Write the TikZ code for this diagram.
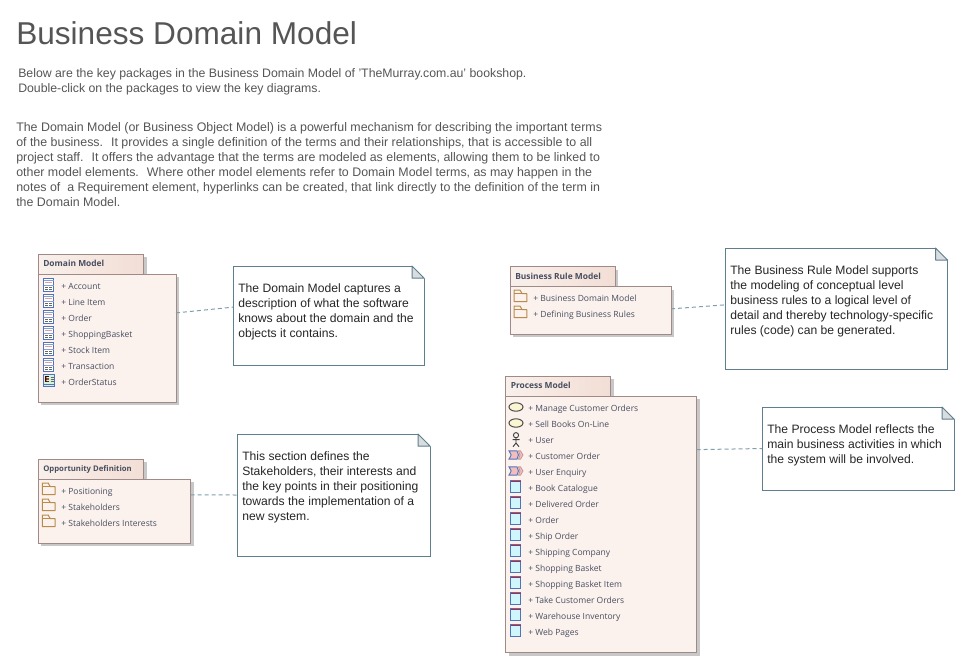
\documentclass[tikz,border=0pt]{standalone}
\usepackage{fontspec}
\setmainfont{Liberation Sans}
\newfontfamily\entryfont{Open Sans}
\usepackage{tikz}
\usetikzlibrary{calc}
\usetikzlibrary{shapes}
\usetikzlibrary{shadows}
\definecolor{pkgline}{HTML}{A08A88}
\definecolor{pkgfill}{HTML}{FBF2EE}
\definecolor{tableft}{HTML}{F9F0EB}
\definecolor{tabright}{HTML}{F2DED5}
\definecolor{notecol}{HTML}{5F7F8F}
\definecolor{linkcol}{HTML}{7F9FAD}
\definecolor{foldcol}{HTML}{D9DDDF}
\definecolor{shadowcol}{HTML}{C8C8C8}
\definecolor{bodytext}{HTML}{555555}
\definecolor{entrytext}{HTML}{484E60}
\definecolor{iconblue}{HTML}{4F74BC}
\definecolor{iconred}{HTML}{C8202C}
\definecolor{iconfill}{HTML}{CFF6FB}
\definecolor{enumfill}{HTML}{D4F2DC}
\definecolor{foldertan}{HTML}{B98A4A}
\definecolor{casefill}{HTML}{FBF6D2}
\definecolor{chevfill}{HTML}{F4BDBD}
\tikzset{
  pkgbody/.style={draw=pkgline, fill=pkgfill, line width=.75pt, anchor=north west, outer sep=0pt, inner sep=0pt,
    general shadow={fill=shadowcol, shadow xshift=2.25pt, shadow yshift=-2.25pt}},
  pkgtab/.style={draw=pkgline, left color=tableft, right color=tabright, line width=.75pt, anchor=north west, outer sep=0pt, inner sep=0pt,
    general shadow={fill=shadowcol, shadow xshift=2.25pt, shadow yshift=-2.25pt}},
  pkgtitle/.style={anchor=base west, inner sep=0pt, text=entrytext, font=\entryfont\fontsize{6.3}{8}\selectfont\bfseries},
  entry/.style={anchor=base west, inner sep=0pt, text=entrytext, font=\entryfont\fontsize{6.4}{8}\selectfont},
  notebox/.style={draw=notecol, fill=white, line width=.75pt, anchor=north west, outer sep=0pt, inner sep=0pt},
  notetext/.style={anchor=north west, inner sep=0pt, align=left, text=black!85, font=\fontsize{9.1}{11.25}\selectfont},
  notelink/.style={draw=linkcol, line width=.75pt, dash pattern=on 3pt off 2.25pt},
  bodypara/.style={anchor=north west, inner sep=0pt, align=left, text=bodytext},
}
\newcommand{\pkg}[7]{% name, x, y, tab width, body width, body height, title
  \node[pkgtab, minimum width=#4*.75pt, minimum height=15pt] (#1tab) at (#2,#3) {};
  \node[pkgbody, minimum width=#5*.75pt, minimum height=#6*.75pt] (#1) at (#2,#3+20) {};
  \node[pkgtitle] (#1title) at (#2+5,#3+12.7) {#7};}
\newcommand{\note}[6]{% name, x, y, w, h, text
  \node[notebox, minimum width=#4*.75pt, minimum height=#5*.75pt] (#1) at (#2,#3) {};
  \fill[white] (#2+#4-12,#3-.5) -- (#2+#4+1,#3-.5) -- (#2+#4+1,#3+12.5) -- cycle;
  \filldraw[draw=notecol, fill=foldcol, line width=.75pt, line join=round] (#2+#4-12,#3) -- (#2+#4,#3+12) -- (#2+#4-12,#3+12) -- cycle;
  \node[notetext] (#1text) at (#2+5,#3+17.2) {#6};}
\newcommand{\entryline}[4]{\node[entry] (#1) at (#2,#3+3) {+ #4};}
\newcommand{\classicon}[2]{\begin{scope}[shift={(#1,#2)}]
  \filldraw[draw=iconblue, fill=white, line width=.75pt] (-5.2,-8) rectangle (5.2,5.7);
  \draw[iconblue!70, line width=.5pt] (-5.2,-5.5) -- (5.2,-5.5) (-5.2,-1) -- (5.2,-1);
  \draw[iconred!45, line width=.5pt] (-3.5,-3.2) -- (3.5,-3.2);
  \draw[black!60, line width=.5pt] (-3.5,1) -- (-.8,1) (.6,1) -- (3.5,1) (-3.5,3.4) -- (-.8,3.4) (.6,3.4) -- (3.5,3.4);
\end{scope}}
\newcommand{\enumicon}[2]{\begin{scope}[shift={(#1,#2)}]
  \filldraw[draw=iconblue, fill=enumfill, line width=.75pt] (-5.7,-7.7) rectangle (5.7,4.7);
  \fill[black!70!red] (-3.8,-6) rectangle (0,.3);
  \fill[enumfill] (-2.6,-4.9) rectangle (0,-3.6) (-2.6,-2.4) rectangle (0,-.9);
  \draw[black!60, line width=.5pt] (1.5,-5) -- (4.5,-5) (1.5,-2.8) -- (4.5,-2.8) (1.5,-.6) -- (4.5,-.6);
  \draw[iconblue, line width=.5pt] (-5.7,2.2) -- (5.7,2.2);
\end{scope}}
\newcommand{\foldericon}[2]{\begin{scope}[shift={(#1,#2)}]
  \draw[foldertan, line width=.75pt, line join=round] (-6.3,3.7) -- (-6.3,-8) -- (-.5,-8) -- (1.5,-4.4) -- (6.3,-4.4) -- (6.3,3.7) -- cycle;
  \draw[foldertan, line width=.75pt] (-6.3,-4.4) -- (1.5,-4.4);
\end{scope}}
\newcommand{\caseicon}[2]{\filldraw[draw=black!70, fill=casefill, line width=.75pt] (#1,#2) ellipse [x radius=7, y radius=4.2];}
\newcommand{\actoricon}[2]{\begin{scope}[shift={(#1,#2)}]
  \draw[black!75, line width=.7pt] (0,-4.8) circle [radius=2.6];
  \draw[black!75, line width=.7pt] (0,-2.2) -- (0,3) (-3.5,-.3) -- (3.5,-.3) (-3,6.7) -- (0,3) -- (3,6.7);
\end{scope}}
\newcommand{\processicon}[2]{\begin{scope}[shift={(#1,#2)}]
  \filldraw[draw=chevfill!80!black, fill=chevfill, line width=.6pt] (2.5,-4.2) -- (4.5,-4.2) -- (7,0) -- (4.5,4.2) -- (2.5,4.2) -- (4,0) -- cycle;
  \filldraw[draw=iconblue, fill=chevfill, line width=.7pt] (-7,-4.2) -- (1,-4.2) -- (2.5,0) -- (1,4.2) -- (-7,4.2) -- (-4.8,0) -- cycle;
\end{scope}}
\newcommand{\windowicon}[2]{\begin{scope}[shift={(#1,#2)}]
  \filldraw[draw=iconblue, fill=iconfill, line width=.75pt] (-5.2,-8) rectangle (5.2,4.3);
  \draw[iconred, line width=.75pt] (-4.8,-6.9) -- (4.8,-6.9);
\end{scope}}

\begin{document}
\begin{tikzpicture}[x=.75pt, y=-.75pt]
    \useasboundingbox (0,0) rectangle (963,662);
    \node[anchor=west, inner sep=0pt, text=bodytext, font=\fontsize{23.7}{28}\selectfont] (pagetitle) at (16,33) {Business Domain Model};
    \node[bodypara, font=\fontsize{9.22}{11.25}\selectfont] (intro) at (18,68.5) {Below are the key packages in the Business Domain Model of 'TheMurray.com.au' bookshop.\\Double-click on the packages to view the key diagrams.};
    \node[bodypara, font=\fontsize{9.3}{11.2}\selectfont] (about) at (16,122.5) {The Domain Model (or Business Object Model) is a powerful mechanism for describing the important terms\\of the business.~ It provides a single definition of the terms and their relationships, that is accessible to all\\project staff.~ It offers the advantage that the terms are modeled as elements, allowing them to be linked to\\other model elements.~ Where other model elements refer to Domain Model terms, as may happen in the\\notes of~ a Requirement element, hyperlinks can be created, that link directly to the definition of the term in\\the Domain Model.};

    % domain model
    \pkg{domain}{38}{254}{105.5}{138}{128}{Domain Model}
    \classicon{48.7}{286}
    \classicon{48.7}{302}
    \classicon{48.7}{318}
    \classicon{48.7}{334}
    \classicon{48.7}{350}
    \classicon{48.7}{366}
    \enumicon{49}{382}
    \entryline{account}{61}{286}{Account}
    \entryline{lineitem}{61}{302}{Line Item}
    \entryline{order}{61}{318}{Order}
    \entryline{basket}{61}{334}{ShoppingBasket}
    \entryline{stockitem}{61}{350}{Stock Item}
    \entryline{transaction}{61}{366}{Transaction}
    \entryline{orderstatus}{61}{382}{OrderStatus}
    \note{domainnote}{233}{266}{191}{99}{The Domain Model captures a\\description of what the software\\knows about the domain and the\\objects it contains.}
    \draw[notelink] (domain.20) -- (domainnote.175);

    % opportunity definition
    \pkg{opportunity}{38}{459}{105.5}{152.5}{64}{{\fontsize{5.8}{8}\selectfont Opportunity Definition}}
    \foldericon{48.7}{491}
    \foldericon{48.7}{507}
    \foldericon{48.7}{523}
    \entryline{positioning}{61}{491}{Positioning}
    \entryline{stakeholders}{61}{507}{Stakeholders}
    \entryline{interests}{61}{523}{Stakeholders Interests}
    \note{opportunitynote}{237}{434}{193}{122}{This section defines the\\Stakeholders, their interests and\\the key points in their positioning\\towards the implementation of a\\new system.}
    \draw[notelink] (opportunity.12) -- (opportunitynote.180);

    % business rule model
    \pkg{rule}{510}{266.5}{105}{161}{47.5}{Business Rule Model}
    \foldericon{520.5}{298}
    \foldericon{520.5}{314}
    \entryline{businessdomain}{533}{298}{Business Domain Model}
    \entryline{definingrules}{533}{314}{Defining Business Rules}
    \note{rulenote}{725}{248}{222.5}{121.5}{The Business Rule Model supports\\the modeling of conceptual level\\business rules to a logical level of\\detail and thereby technology-specific\\rules (code) can be generated.}
    \draw[notelink] (rule.1) -- (rulenote.178);

    % process model
    \pkg{process}{505.5}{376}{105}{191}{256.5}{Process Model}
    \caseicon{516}{407}
    \caseicon{516}{423}
    \actoricon{516}{440}
    \processicon{516}{455}
    \processicon{516}{471}
    \windowicon{515.7}{488}
    \windowicon{515.7}{504}
    \windowicon{515.7}{520}
    \windowicon{515.7}{536}
    \windowicon{515.7}{552}
    \windowicon{515.7}{568}
    \windowicon{515.7}{584}
    \windowicon{515.7}{600}
    \windowicon{515.7}{616}
    \windowicon{515.7}{632}
    \entryline{manage}{528}{408}{Manage Customer Orders}
    \entryline{sellbooks}{528}{424}{Sell Books On-Line}
    \entryline{user}{528}{440}{User}
    \entryline{customerorder}{528}{456}{Customer Order}
    \entryline{userenquiry}{528}{472}{User Enquiry}
    \entryline{catalogue}{528}{488}{Book Catalogue}
    \entryline{delivered}{528}{504}{Delivered Order}
    \entryline{porder}{528}{520}{Order}
    \entryline{shiporder}{528}{536}{Ship Order}
    \entryline{company}{528}{552}{Shipping Company}
    \entryline{shopbasket}{528}{568}{Shopping Basket}
    \entryline{basketitem}{528}{584}{Shopping Basket Item}
    \entryline{takeorders}{528}{600}{Take Customer Orders}
    \entryline{warehouse}{528}{616}{Warehouse Inventory}
    \entryline{webpages}{528}{632}{Web Pages}
    \note{processnote}{762}{407}{192}{83}{The Process Model reflects the\\main business activities in which\\the system will be involved.}
    \draw[notelink] (process.38) -- (processnote.180);
\end{tikzpicture}
\end{document}
